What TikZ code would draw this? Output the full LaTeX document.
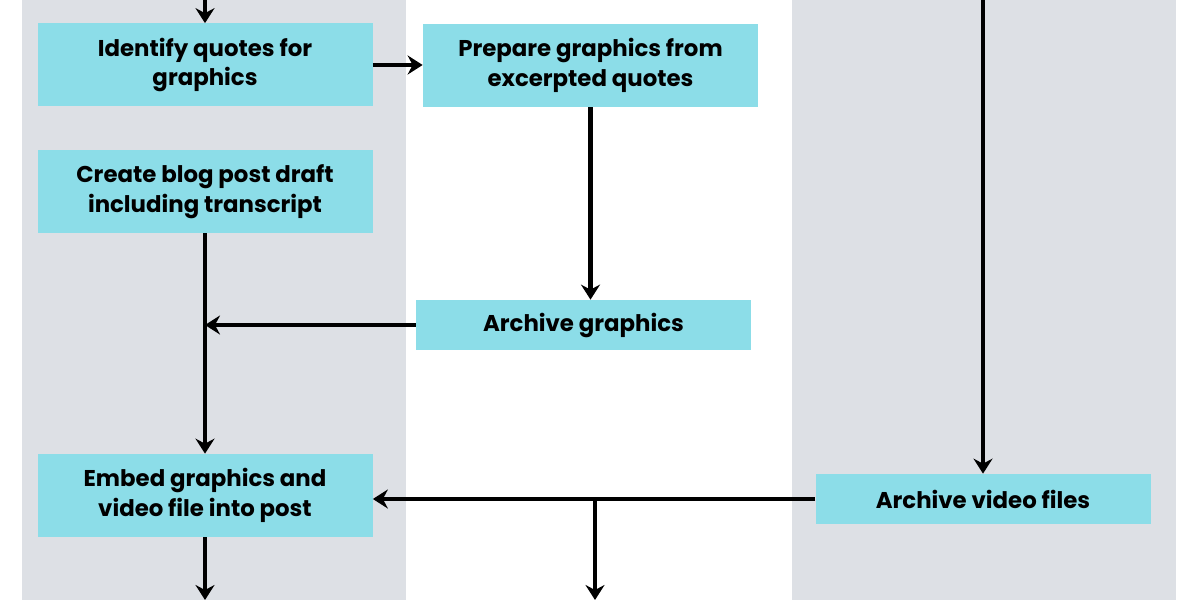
\documentclass[tikz,border=0pt]{standalone}
\usepackage{fontspec}
\setmainfont{Poppins}
\usetikzlibrary{arrows.meta, positioning}
\definecolor{lane}{HTML}{DDE0E5}
\definecolor{task}{HTML}{8CDDE8}
\tikzset{
  taskbox/.style={fill=task,minimum width=6.7cm,minimum height=#1,align=center,
    font=\fontsize{13}{17}\selectfont\bfseries,inner sep=0pt},
  taskbox/.default=1.66cm,
  flow/.style={line width=2.3pt,-{Stealth[length=0.3cm,width=0.38cm,inset=0.1cm]}},
}
\begin{document}
\begin{tikzpicture}
\useasboundingbox (0,0) rectangle (24,12);

% swimlanes
\fill[lane] (0.44,0) rectangle (8.12,12);
\fill[lane] (15.84,0) rectangle (23.52,12);

\node[taskbox] (quotes) at (4.1,10.7) {Identify quotes for\\graphics};
\node[taskbox] (prep) at (11.81,10.69) {Prepare graphics from\\excerpted quotes};
\node[taskbox] (draft) at (4.1,8.17) {Create blog post draft\\including transcript};
\node[taskbox=1cm] (archg) at (11.67,5.5) {Archive graphics};
\node[taskbox] (embed) at (4.1,2.09) {Embed graphics and\\video file into post};
\node[taskbox=1cm] (archv) at (19.66,2.02) {Archive video files};

\coordinate (in1) at (4.1,12);
\coordinate (in2) at (19.66,12);
\coordinate (out1) at (4.1,0);
\coordinate (split) at (11.9,2.02);
\coordinate (out2) at (11.9,0);

\draw[flow] (in1) -- (quotes);
\draw[flow] (quotes.east) -- (prep.west |- quotes.east);
\draw[flow] (prep.south) -- (prep.south |- archg.north);
\draw[flow] (draft) -- (embed);
\draw[flow] (archg.west) -- (archg.west -| draft.south);
\draw[flow] (in2) -- (archv);
\draw[flow] (archv.west) -- (archv.west -| embed.east);
\draw[flow] (split) -- (out2);
\draw[flow] (embed) -- (out1);

\end{tikzpicture}
\end{document}
